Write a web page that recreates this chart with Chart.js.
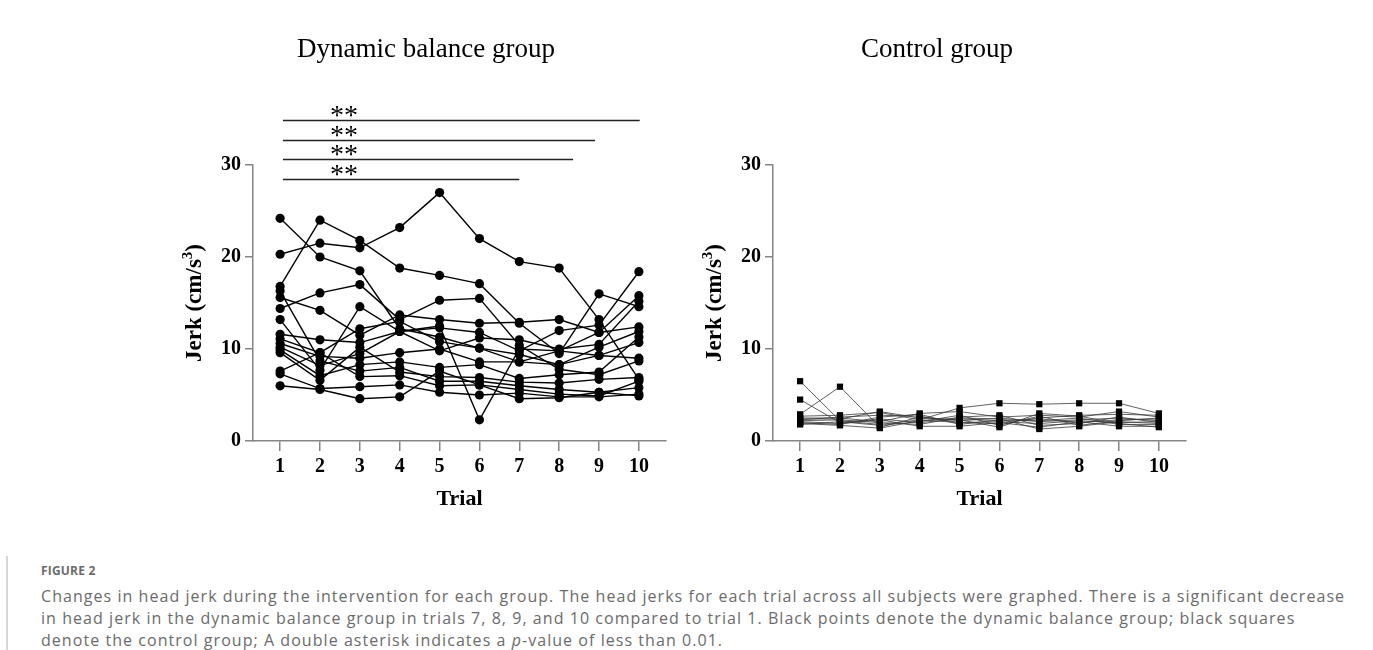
<!DOCTYPE html>
<html lang="en">
<head>
<meta charset="UTF-8">
<title>Head jerk per trial</title>
<script src="https://cdn.jsdelivr.net/npm/chart.js"></script>
<style>
  body {
    margin: 0;
    background: #ffffff;
    width: 1373px;
    height: 650px;
    overflow: hidden;
    position: relative;
    font-family: 'Open Sans', sans-serif;
  }
  canvas { position: absolute; top: 0; }
  #balanceChart { left: 0; }
  #controlChart { left: 520px; }
  .caption {
    position: absolute;
    left: 6px;
    top: 556px;
    height: 94px;
    border-left: 2px solid #d6d6d6;
    padding-left: 33px;
    color: #6b6b6b;
  }
  .caption .label {
    font-size: 12px;
    font-weight: 700;
    line-height: 29px;
    letter-spacing: 0.2px;
  }
  .caption .line {
    font-size: 16px;
    line-height: 22px;
    letter-spacing: 1.05px;
    white-space: nowrap;
  }
</style>
</head>
<body>

<canvas id="balanceChart" width="700" height="540"></canvas>
<canvas id="controlChart" width="700" height="540"></canvas>

<div class="caption">
  <div class="label">FIGURE 2</div>
  <div class="line">Changes in head jerk during the intervention for each group. The head jerks for each trial across all subjects were graphed. There is a significant decrease</div>
  <div class="line">in head jerk in the dynamic balance group in trials 7, 8, 9, and 10 compared to trial 1. Black points denote the dynamic balance group; black squares</div>
  <div class="line">denote the control group; A double asterisk indicates a <i>p</i>-value of less than 0.01.</div>
</div>

<script>
  const trials = [1, 2, 3, 4, 5, 6, 7, 8, 9, 10];
  const yTicks = [0, 10, 20, 30];

  // head jerk (cm/s^3) per subject, trials 1-10
  const balanceJerk = [
    [24.2, 20.0, 18.5, 12.2, 11.3, 10.1, 9.4, 8.3, 9.3, 10.7],
    [20.3, 21.5, 21.0, 23.2, 27.0, 22.0, 19.5, 18.8, 13.2, 6.7],
    [16.8, 24.0, 21.8, 18.8, 18.0, 17.1, 12.8, 9.5, 16.0, 14.6],
    [14.4, 16.1, 17.0, 13.2, 15.3, 15.5, 10.4, 7.8, 7.2, 8.7],
    [15.6, 14.2, 11.5, 13.7, 13.2, 12.8, 12.9, 13.2, 11.8, 15.8],
    [16.3, 8.7, 7.6, 8.0, 6.5, 6.5, 6.0, 5.6, 5.3, 5.8],
    [13.2, 7.7, 14.6, 11.9, 12.3, 11.8, 9.8, 12.0, 12.6, 18.4],
    [11.6, 11.0, 10.7, 11.9, 9.8, 11.2, 11.0, 10.0, 10.5, 15.2],
    [11.1, 9.6, 12.2, 13.0, 10.8, 10.1, 8.6, 8.3, 10.2, 11.9],
    [10.6, 9.2, 9.0, 9.6, 10.0, 8.6, 8.6, 9.8, 9.3, 9.0],
    [10.2, 8.2, 9.5, 11.9, 12.5, 2.3, 10.0, 9.8, 11.8, 12.4],
    [9.9, 7.1, 8.3, 8.6, 8.0, 8.3, 6.8, 7.2, 7.5, 11.3],
    [9.6, 6.6, 10.2, 7.5, 7.0, 6.9, 6.4, 6.3, 6.7, 6.9],
    [7.6, 9.6, 7.0, 7.1, 6.0, 6.1, 5.6, 5.1, 4.9, 6.5],
    [7.3, 5.7, 5.9, 6.1, 5.3, 5.0, 5.2, 4.8, 4.8, 5.1],
    [6.0, 5.6, 4.6, 4.8, 7.6, 6.1, 4.6, 4.7, 5.3, 4.9]
  ];

  const controlJerk = [
    [6.5, 2.2, 1.8, 2.3, 2.0, 2.1, 1.9, 2.2, 2.0, 2.1],
    [4.5, 2.0, 2.4, 2.0, 2.4, 2.2, 2.4, 2.0, 2.3, 2.4],
    [2.9, 5.9, 1.5, 2.6, 2.2, 2.5, 2.1, 2.3, 2.5, 2.2],
    [2.7, 2.8, 3.1, 2.3, 3.6, 4.1, 4.0, 4.1, 4.1, 3.0],
    [2.5, 2.5, 2.1, 3.0, 3.2, 2.6, 2.8, 2.6, 3.2, 2.6],
    [2.3, 2.6, 2.8, 2.7, 2.0, 1.9, 2.5, 2.8, 2.9, 2.8],
    [2.2, 2.3, 2.0, 1.8, 2.6, 2.8, 1.7, 1.9, 2.6, 2.0],
    [2.0, 1.8, 2.6, 2.9, 1.8, 2.3, 2.2, 2.5, 1.8, 1.8],
    [1.8, 2.1, 1.7, 2.1, 2.8, 1.7, 2.7, 1.7, 2.2, 2.5],
    [2.1, 1.9, 2.3, 1.6, 1.6, 2.0, 1.5, 2.1, 1.6, 1.6],
    [2.4, 2.4, 3.2, 2.5, 2.3, 1.5, 3.0, 2.7, 1.9, 1.5],
    [1.9, 1.7, 1.4, 2.2, 2.5, 2.4, 1.3, 1.6, 2.1, 1.9]
  ];

  // trial 1 vs these trials, p < 0.01 (bar ends as drawn in the figure)
  const sigBarEnds = [7, 8.35, 8.9, 10.02];
  const sigLabel = '**';

  const serif = 'Liberation Serif';
  const axisGrey = '#858585';

  const groupTitle = {
    id: 'groupTitle',
    afterDraw(chart, args, opts) {
      const ctx = chart.ctx;
      ctx.save();
      ctx.font = '27px "' + serif + '"';
      ctx.fillStyle = '#000';
      ctx.textAlign = 'center';
      ctx.textBaseline = 'middle';
      ctx.fillText(opts.text, opts.x, 50);
      ctx.restore();
    }
  };

  // y title with a real raised "3"
  const jerkTitle = {
    id: 'jerkTitle',
    afterDraw(chart) {
      const ctx = chart.ctx;
      const area = chart.chartArea;
      const big = 'bold 23px "' + serif + '"';
      const small = 'bold 15px "' + serif + '"';
      const parts = [['Jerk (cm/s', big, 0], ['3', small, -9], [')', big, 0]];
      ctx.save();
      let total = 0;
      parts.forEach(p => { ctx.font = p[1]; total += ctx.measureText(p[0]).width; });
      ctx.translate(193, (area.top + area.bottom) / 2);
      ctx.rotate(-Math.PI / 2);
      ctx.fillStyle = '#000';
      ctx.textBaseline = 'alphabetic';
      ctx.textAlign = 'left';
      let cx = -total / 2;
      parts.forEach(p => {
        ctx.font = p[1];
        ctx.fillText(p[0], cx, 8 + p[2]);
        cx += ctx.measureText(p[0]).width;
      });
      ctx.restore();
    }
  };

  const sigBars = {
    id: 'sigBars',
    afterDraw(chart) {
      const { ctx, scales: { x, y } } = chart;
      ctx.save();
      ctx.strokeStyle = '#222';
      ctx.lineWidth = 1.5;
      ctx.fillStyle = '#000';
      ctx.font = '28px "' + serif + '"';
      ctx.textAlign = 'center';
      ctx.textBaseline = 'alphabetic';
      sigBarEnds.forEach((end, i) => {
        const py = Math.round(y.getPixelForValue(28.45 + i * 2.15)) + 0.5;
        ctx.beginPath();
        ctx.moveTo(x.getPixelForValue(1.07), py);
        ctx.lineTo(x.getPixelForValue(end), py);
        ctx.stroke();
        ctx.fillText(sigLabel, x.getPixelForValue(2.6), py + 3);
      });
      ctx.restore();
    }
  };

  function makeChart(id, series, dot, title, titleX, extra) {
    return new Chart(document.getElementById(id), {
      type: 'line',
      data: {
        datasets: series.map(vals => ({
          data: vals.map((v, i) => ({ x: trials[i], y: v })),
          borderColor: dot.line,
          borderWidth: dot.lineWidth,
          backgroundColor: '#000',
          pointBackgroundColor: '#000',
          pointBorderColor: '#000',
          pointBorderWidth: 0,
          pointStyle: dot.style,
          pointRadius: dot.radius,
          pointHoverRadius: dot.radius,
          tension: 0,
          fill: false
        }))
      },
      options: {
        responsive: false,
        animation: false,
        events: [],
        layout: { padding: { left: 175, top: 165, right: 34, bottom: 19 } },
        plugins: {
          legend: { display: false },
          tooltip: { enabled: false },
          groupTitle: { text: title, x: titleX }
        },
        scales: {
          x: {
            type: 'linear',
            min: 0.32,
            max: 10.68,
            afterBuildTicks: s => { s.ticks = trials.map(v => ({ value: v })); },
            afterFit: s => { s.height = 80; },
            grid: { drawOnChartArea: false, tickLength: 10, color: axisGrey, lineWidth: 1.5 },
            border: { color: axisGrey, width: 1.5 },
            ticks: {
              color: '#000',
              padding: 4,
              maxRotation: 0,
              autoSkip: false,
              font: { family: serif, size: 20, weight: 'bold' }
            },
            title: {
              display: true,
              text: 'Trial',
              color: '#000',
              padding: { top: 0, bottom: 8 },
              font: { family: serif, size: 22, weight: 'bold' }
            }
          },
          y: {
            min: 0,
            max: 30,
            afterBuildTicks: s => { s.ticks = yTicks.map(v => ({ value: v })); },
            afterFit: s => { s.width = 78; },
            grid: { drawOnChartArea: false, tickLength: 8, color: axisGrey, lineWidth: 1.5 },
            border: { color: axisGrey, width: 1.5 },
            ticks: {
              color: '#000',
              padding: 4,
              font: { family: serif, size: 20, weight: 'bold' }
            }
          }
        }
      },
      plugins: [groupTitle, jerkTitle].concat(extra)
    });
  }

  makeChart('balanceChart', balanceJerk,
    { style: 'circle', radius: 4.6, line: '#000', lineWidth: 1.4 },
    'Dynamic balance group', 426, [sigBars]);

  makeChart('controlChart', controlJerk,
    { style: 'rect', radius: 4.4, line: '#3a3a3a', lineWidth: 0.8 },
    'Control group', 417, []);
</script>

</body>
</html>
